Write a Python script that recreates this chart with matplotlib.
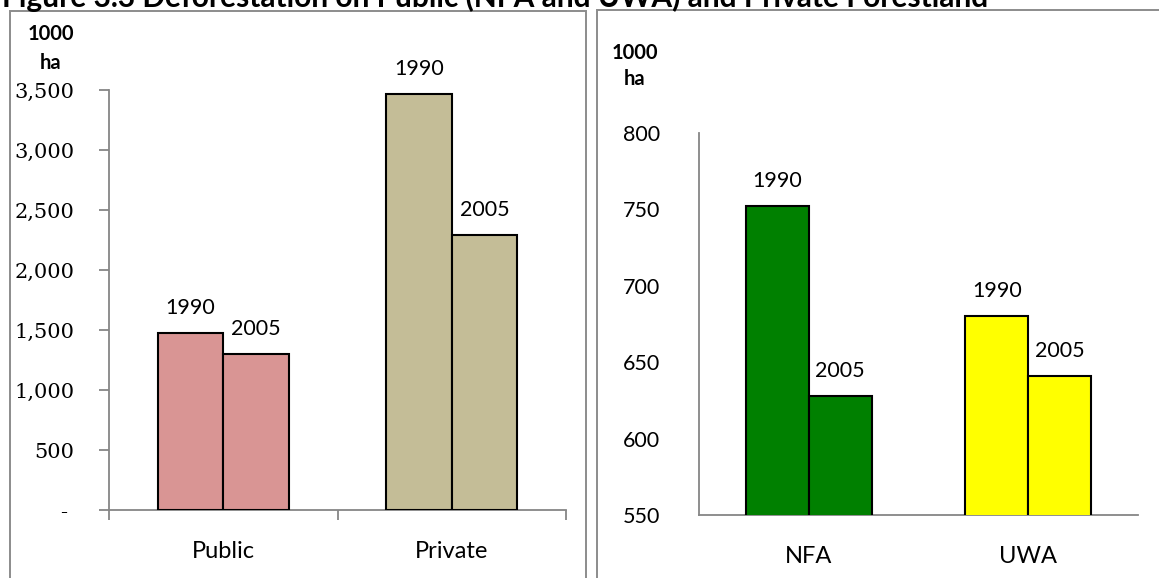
import matplotlib
matplotlib.use("Agg")
import matplotlib.pyplot as plt
from matplotlib.patches import Rectangle
import numpy as np

# ---- data ----
title = "Figure 3.3 Deforestation on Public (NFA and UWA) and Private Forestland"
unit_label = "1000\nha"
years = ["1990", "2005"]

left_categories = ["Public", "Private"]
left_1990 = [1472, 3467]
left_2005 = [1297, 2292]
left_colors = ["#D99594", "#C4BD97"]
left_ticks = [0, 500, 1000, 1500, 2000, 2500, 3000, 3500]
left_ticklabels = ["- ", "500", "1,000", "1,500", "2,000", "2,500", "3,000", "3,500"]

right_categories = ["NFA", "UWA"]
right_1990 = [752, 680]
right_2005 = [628, 641]
right_colors = ["#008000", "#FFFF00"]
right_ticks = [550, 600, 650, 700, 750, 800]
right_ticklabels = ["550", "600", "650", "700", "750", "800"]

SANS = ["Lato", "DejaVu Sans"]
SERIF = ["DejaVu Serif"]
W, H = 1159, 578
fig = plt.figure(figsize=(W / 100, H / 100), dpi=100)

def fx(px):
    return px / W

def fy(py):
    return 1 - py / H

# panel borders
border_col = "#8C8C8C"
fig.patches.append(Rectangle((fx(10), fy(620)), fx(586 - 10), (620 - 11) / H,
                             transform=fig.transFigure, fill=False,
                             edgecolor=border_col, lw=1.4, figure=fig))
fig.patches.append(Rectangle((fx(597), fy(620)), fx(1200 - 597), (620 - 10) / H,
                             transform=fig.transFigure, fill=False,
                             edgecolor=border_col, lw=1.4, figure=fig))

# title (mostly cut at the top, as in reference)
fig.text(fx(2), fy(7), title, ha="left", va="baseline", fontsize=21.5,
         fontweight="bold", family=SANS, color="black")

bw = 0.2875
axis_col = "#868686"

def style(ax):
    for s in ["top", "right"]:
        ax.spines[s].set_visible(False)
    for s in ["left", "bottom"]:
        ax.spines[s].set_color(axis_col)
        ax.spines[s].set_linewidth(1.3)

def draw_bars(ax, cats, v1, v2, colors):
    x = np.arange(len(cats))
    b1 = ax.bar(x - bw / 2, v1, bw, color=colors, edgecolor="black", lw=1.5, zorder=3)
    b2 = ax.bar(x + bw / 2, v2, bw, color=colors, edgecolor="black", lw=1.5, zorder=3)
    for bars, yr in ((b1, years[0]), (b2, years[1])):
        for r in bars:
            ax.annotate(yr, (r.get_x() + r.get_width() / 2, r.get_height()),
                        xytext=(0, 25), textcoords="offset pixels",
                        ha="center", va="center", fontsize=15.5, family=SANS)
    ax.set_xlim(-0.5, len(cats) - 0.5)

# ---- left panel ----
axL = fig.add_axes([fx(109), fy(510), fx(566 - 109), (510 - 90) / H])
draw_bars(axL, left_categories, left_1990, left_2005, left_colors)
axL.set_ylim(0, 3500)
axL.set_yticks(left_ticks)
axL.set_yticklabels(left_ticklabels, family=SERIF, fontsize=15)
axL.tick_params(axis="y", length=7, width=1.3, color=axis_col, pad=18)
axL.set_xticks([-0.5, 0.5, 1.5])
axL.set_xticklabels([])
axL.set_xticks([0, 1], minor=True)
axL.set_xticklabels(left_categories, minor=True, family=SANS, fontsize=17)
axL.tick_params(axis="x", which="major", length=7, width=1.3, color=axis_col)
axL.tick_params(axis="x", which="minor", length=0, pad=22)
style(axL)

# ---- right panel ----
axR = fig.add_axes([fx(699), fy(515), fx(1138 - 699), (515 - 133) / H])
draw_bars(axR, right_categories, right_1990, right_2005, right_colors)
axR.set_ylim(550, 800)
axR.set_yticks(right_ticks)
axR.set_yticklabels(right_ticklabels, family=SANS, fontsize=15.5)
axR.tick_params(axis="y", length=0, pad=28)
axR.set_xticks([0, 1])
axR.set_xticklabels(right_categories, family=SANS, fontsize=17)
axR.tick_params(axis="x", length=0, pad=22)
style(axR)

# unit labels
for cx, y1, y2 in ((51, 34, 63), (635, 53, 79)):
    fig.text(fx(cx), fy(y1), "1000", ha="center", va="center", fontsize=14.5,
             fontweight="bold", family=SANS)
    fig.text(fx(cx), fy(y2), "ha", ha="center", va="center", fontsize=14.5,
             fontweight="bold", family=SANS)

fig.savefig("out.png", dpi=100)
